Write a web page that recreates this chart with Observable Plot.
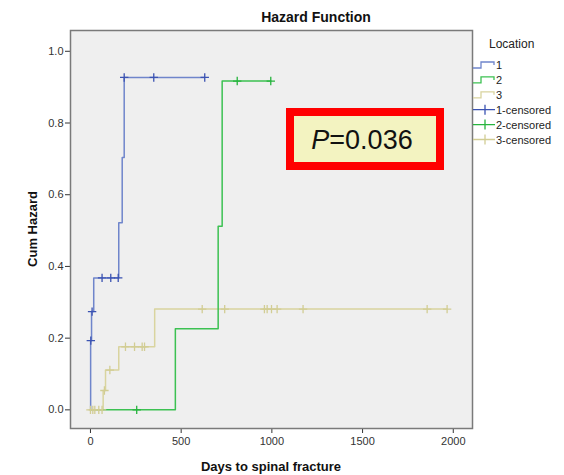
<!DOCTYPE html>
<html>
<head>
<meta charset="utf-8">
<script src="https://cdn.jsdelivr.net/npm/d3@7"></script>
<script src="https://cdn.jsdelivr.net/npm/@observablehq/plot@0.6"></script>
<style>
  html, body { margin: 0; padding: 0; background: #ffffff; }
  #chart { width: 564px; height: 475px; }
</style>
</head>
<body>
<div id="chart"></div>
<script>
// ---- data ----
const seriesNames = ["1", "2", "3"];
const colorsLine = ["#6f85cb", "#3cc152", "#d9d49f"];
const colorsCens = ["#3b53b2", "#27b43e", "#d2cd94"];

// step times (days) and cumulative hazard after each time
const times1 = [0, 1, 6, 18, 156, 175, 186, 630];
const haz1   = [0, 0.193, 0.274, 0.368, 0.522, 0.704, 0.927, 0.927];
const cens1  = [2, 9, 64, 112, 153, 186, 349, 630];

const times2 = [0, 468, 704, 726, 994];
const haz2   = [0, 0.226, 0.512, 0.917, 0.917];
const cens2  = [255, 809, 994];

const times3 = [0, 70, 83, 156, 354, 1966];
const haz3   = [0, 0.054, 0.111, 0.176, 0.281, 0.281];
const cens3  = [0, 13, 24, 46, 64, 77, 107, 193, 243, 285, 298, 616, 740, 959, 974, 998, 1029, 1172, 1856, 1966];

const xTicks = [0, 500, 1000, 1500, 2000];
const yTicks = [0, 0.2, 0.4, 0.6, 0.8, 1.0];

const titleText = "Hazard Function";
const xLabel = "Days to spinal fracture";
const yLabel = "Cum Hazard";
const legendTitle = "Location";
const legendLabels = ["1", "2", "3", "1-censored", "2-censored", "3-censored"];
const pText = "=0.036";

// ---- build tables ----
const stepTimes = [times1, times2, times3];
const stepHaz = [haz1, haz2, haz3];
const censTimes = [cens1, cens2, cens3];

const lines = [];
const cens = [];
seriesNames.forEach((s, k) => {
  stepTimes[k].forEach((t, i) => lines.push({series: s, t, h: stepHaz[k][i]}));
  censTimes[k].forEach(t => {
    const i = d3.bisectRight(stepTimes[k], t) - 1;
    cens.push({series: s, t, h: stepHaz[k][Math.max(0, i)]});
  });
});

const crossSymbol = {
  draw(ctx, size) {
    const r = Math.sqrt(size / Math.PI);
    ctx.moveTo(0, -r); ctx.lineTo(0, r);
    ctx.moveTo(-r, 0); ctx.lineTo(r, 0);
  }
};

const order = ["3", "2", "1"];
const marks = [Plot.frame({fill: "#efefef", stroke: "none"})];
order.forEach(s => {
  const k = seriesNames.indexOf(s);
  marks.push(Plot.line(lines.filter(d => d.series === s), {
    x: "t", y: "h", curve: "step-after", stroke: colorsLine[k], strokeWidth: 1.5
  }));
});
order.forEach(s => {
  const k = seriesNames.indexOf(s);
  marks.push(Plot.dot(cens.filter(d => d.series === s), {
    x: "t", y: "h", symbol: crossSymbol, r: 4.2, stroke: colorsCens[k], strokeWidth: 1.3, fill: "none"
  }));
});
marks.push(Plot.frame({stroke: "#7a7a7a", strokeWidth: 1.5}));

const svg = Plot.plot({
  width: 564,
  height: 475,
  marginLeft: 70,
  marginRight: 92,
  marginTop: 30,
  marginBottom: 47,
  style: {fontFamily: "'Liberation Sans', Arial, sans-serif", fontSize: "11px", color: "#333", background: "#ffffff"},
  x: {domain: [-110, 2106], ticks: xTicks, tickFormat: d3.format("d"), tickSize: 5, tickPadding: 4, label: null},
  y: {domain: [-0.052, 1.058], ticks: yTicks, tickFormat: d3.format(".1f"), tickSize: 5, tickPadding: 2, label: null},
  marks
});

document.getElementById("chart").appendChild(svg);

// ---- annotations: title, axis labels, legend, P box ----
const g = d3.select(svg).append("g")
  .attr("font-family", "'Liberation Sans', Arial, sans-serif")
  .attr("text-anchor", "start");
const fx0 = 70, fx1 = 472, fy0 = 30, fy1 = 428;

g.append("text").attr("x", 316).attr("y", 22).attr("text-anchor", "middle")
  .attr("font-size", 14).attr("font-weight", "bold").attr("fill", "#111").text(titleText);
g.append("text").attr("x", (fx0 + fx1) / 2).attr("y", 471).attr("text-anchor", "middle")
  .attr("font-size", 13).attr("font-weight", "bold").attr("fill", "#111").text(xLabel);
g.append("text").attr("transform", `translate(37,${(fy0 + fy1) / 2}) rotate(-90)`).attr("text-anchor", "middle")
  .attr("font-size", 13).attr("font-weight", "bold").attr("fill", "#111").text(yLabel);

// legend
g.append("text").attr("x", 489).attr("y", 48).attr("text-anchor", "start")
  .attr("font-size", 12).attr("fill", "#222").text(legendTitle);
const ly0 = 65, ldy = 14.9;
legendLabels.forEach((lab, i) => {
  const y = ly0 + i * ldy;
  const k = i % 3;
  if (i < 3) {
    g.append("path").attr("d", `M473,${y + 3}H481V${y - 3}H494V${y}`)
      .attr("fill", "none").attr("stroke", colorsLine[k]).attr("stroke-width", 1.3);
  } else {
    g.append("path").attr("d", `M473,${y}H495M485,${y - 5}V${y + 5}`)
      .attr("fill", "none").attr("stroke", colorsCens[k]).attr("stroke-width", 1.3);
  }
  g.append("text").attr("x", 496).attr("y", y + 4).attr("text-anchor", "start")
    .attr("font-size", 11).attr("fill", "#222").text(lab);
});

// P value box
g.append("rect").attr("x", 290).attr("y", 112).attr("width", 150).attr("height", 54)
  .attr("fill", "#f3f3c1").attr("stroke", "#ff0000").attr("stroke-width", 8);
const pt = g.append("text").attr("x", 362).attr("y", 149).attr("text-anchor", "middle")
  .attr("font-size", 27).attr("fill", "#111");
pt.append("tspan").attr("font-style", "italic").text("P");
pt.append("tspan").text(pText);
</script>
</body>
</html>
